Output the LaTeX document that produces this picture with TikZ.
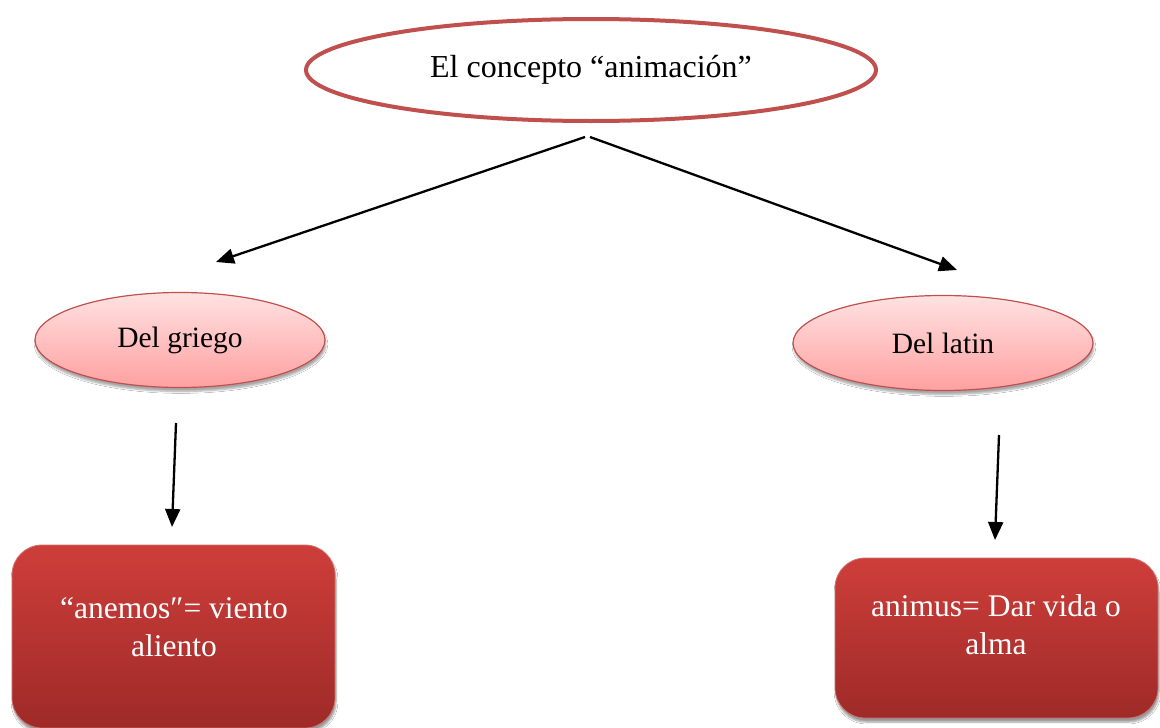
\documentclass[tikz,border=0pt]{standalone}
\usepackage{fontspec}
\setmainfont{Liberation Serif}
\usetikzlibrary{shapes.geometric,arrows.meta,shadows.blur}
\definecolor{redline}{HTML}{C0504D}
\definecolor{pinktop}{RGB}{255,226,226}
\definecolor{pinkbot}{RGB}{255,160,160}
\definecolor{boxtop}{RGB}{206,62,58}
\definecolor{boxbot}{RGB}{158,42,40}
\tikzset{
  mainoval/.style={ellipse, draw=redline, line width=4pt, fill=white, inner sep=0pt,
    font=\fontsize{32}{38}\selectfont},
  suboval/.style={ellipse, draw=redline, line width=1.2pt, inner sep=0pt,
    top color=pinktop, bottom color=pinkbot,
    blur shadow={shadow xshift=1pt, shadow yshift=-4pt, shadow blur steps=6, shadow opacity=35},
    font=\fontsize{29.5}{35}\selectfont},
  leafbox/.style={rectangle, rounded corners=30pt, draw=redline!80, line width=0.8pt,
    top color=boxtop, bottom color=boxbot, inner sep=0pt,
    blur shadow={shadow xshift=1pt, shadow yshift=-4pt, shadow blur steps=6, shadow opacity=40}},
  leaftext/.style={text=white, align=center, inner sep=0pt,
    font=\fontsize{31.5}{38}\selectfont},
  arr/.style={draw=black, line width=2.3pt, -{Triangle[length=18pt,width=15pt]}}
}
\begin{document}
\begin{tikzpicture}[x=1pt,y=-1pt]
\useasboundingbox (0,0) rectangle (1160,728);
\fill[white] (0,0) rectangle (1160,728);

\node[mainoval, minimum width=570pt, minimum height=102pt] (top) at (591,70) {El concepto “animación”};

\node[suboval, minimum width=290pt, minimum height=95pt] (griego) at (180,340) {Del griego};
\node[suboval, minimum width=300pt, minimum height=95pt] (latin) at (943,343) {Del latin};

\node[leafbox, minimum width=323pt, minimum height=183pt] (anemos) at (173.5,636.5) {};
\node[leaftext] (anemostxt) at (174,627) {“anemos″= viento\\aliento};

\node[leafbox, minimum width=323pt, minimum height=160pt] (animus) at (996.5,638) {};
\node[leaftext] (animustxt) at (996,625) {animus= Dar vida o\\alma};

\coordinate (s1) at (585,137);
\coordinate (e1) at (216,262);
\coordinate (s2) at (590,137);
\coordinate (e2) at (957,270);
\coordinate (s3) at (176,423);
\coordinate (e3) at (172,527);
\coordinate (s4) at (999,435);
\coordinate (e4) at (995,540);

\draw[arr] (s1) -- (e1);
\draw[arr] (s2) -- (e2);
\draw[arr] (s3) -- (e3);
\draw[arr] (s4) -- (e4);
\end{tikzpicture}
\end{document}
